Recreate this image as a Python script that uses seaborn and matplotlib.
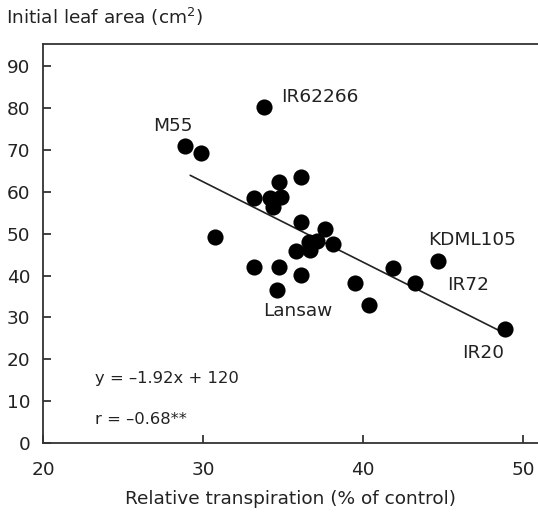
import matplotlib
matplotlib.use("Agg")
import matplotlib.pyplot as plt
import seaborn as sns
import pandas as pd
import numpy as np

# ---- data ----
transpiration = [28.9, 29.9, 33.8, 30.75, 36.1, 34.75, 33.2, 34.9, 34.2, 34.4,
                 36.1, 37.6, 35.8, 36.7, 37.1, 38.1, 36.6,
                 33.2, 34.75, 36.1, 34.6, 39.5, 40.4, 41.9, 43.25, 44.7, 48.9]
leaf_area = [70.9, 69.2, 80.2, 49.2, 63.5, 62.3, 58.5, 58.7, 58.5, 56.3,
             52.7, 51.1, 45.8, 46.0, 48.2, 47.5, 48.0,
             42.0, 42.0, 40.1, 36.5, 38.2, 32.9, 41.8, 38.2, 43.4, 27.2]

cultivar_names = ["M55", "IR62266", "KDML105", "IR72", "IR20", "Lansaw"]

slope = -1.92
intercept = 120
fit_x = [29.2, 48.9]
equation_text = "y = \u20131.92x + 120"
r_text = "r = \u20130.68**"

x_ticks = [20, 30, 40, 50]
y_ticks = [0, 10, 20, 30, 40, 50, 60, 70, 80, 90]

x_label = "Relative transpiration (% of control)"
y_label = "Initial leaf area (cm$^{2}$)"

# ---- styling ----
sns.set_theme(style="white")
plt.rcParams["font.family"] = ["DejaVu Sans"]
plt.rcParams["mathtext.default"] = "regular"

FS = 13.3
TXT = "#222222"

fig = plt.figure(figsize=(5.38, 5.21), dpi=100)
ax = fig.add_axes([43 / 538, 1 - 443 / 521, 1 - 43 / 538, (443 - 44) / 521])

df = pd.DataFrame({"x": transpiration, "y": leaf_area})
sns.scatterplot(data=df, x="x", y="y", ax=ax, color="black", s=135,
                edgecolor="black", linewidth=0, zorder=3, legend=False)

fit_df = pd.DataFrame({"x": fit_x, "y": [slope * v + intercept for v in fit_x]})
sns.lineplot(data=fit_df, x="x", y="y", ax=ax, color="#222222", linewidth=1.2,
             zorder=2)

ax.set_xlim(20, 20 + 495 / 16)
ax.set_ylim(0, 95.3)
ax.set_xticks(x_ticks)
ax.set_yticks(y_ticks)
ax.tick_params(axis="both", direction="in", length=6, width=1.2,
               labelsize=FS, colors=TXT, left=True, bottom=True)
ax.tick_params(axis="x", pad=13)
ax.tick_params(axis="y", pad=9)
for side in ["left", "bottom", "top"]:
    ax.spines[side].set_color("#333333")
    ax.spines[side].set_linewidth(1.3)
ax.spines["right"].set_visible(False)

ax.set_xlabel(x_label, fontsize=FS, color=TXT, labelpad=8)
ax.set_ylabel("")
fig.text(6 / 538, 1 - 17 / 521, y_label, fontsize=FS, color=TXT,
         ha="left", va="center")

# cultivar labels (layout positions)
label_pos = {
    "M55": (28.1, 75.6, "center"),
    "IR62266": (34.9, 82.6, "left"),
    "KDML105": (44.1, 48.4, "left"),
    "IR72": (45.25, 37.7, "left"),
    "IR20": (46.2, 21.5, "left"),
    "Lansaw": (35.9, 31.5, "center"),
}
for name in cultivar_names:
    lx, ly, ha = label_pos[name]
    ax.text(lx, ly, name, fontsize=FS, color=TXT, ha=ha, va="center")

ax.text(23.25, 15.3, equation_text, fontsize=11.8, color=TXT,
        ha="left", va="center")
ax.text(23.25, 5.7, r_text, fontsize=11.8, color=TXT,
        ha="left", va="center")

fig.savefig("out.png", dpi=100)
